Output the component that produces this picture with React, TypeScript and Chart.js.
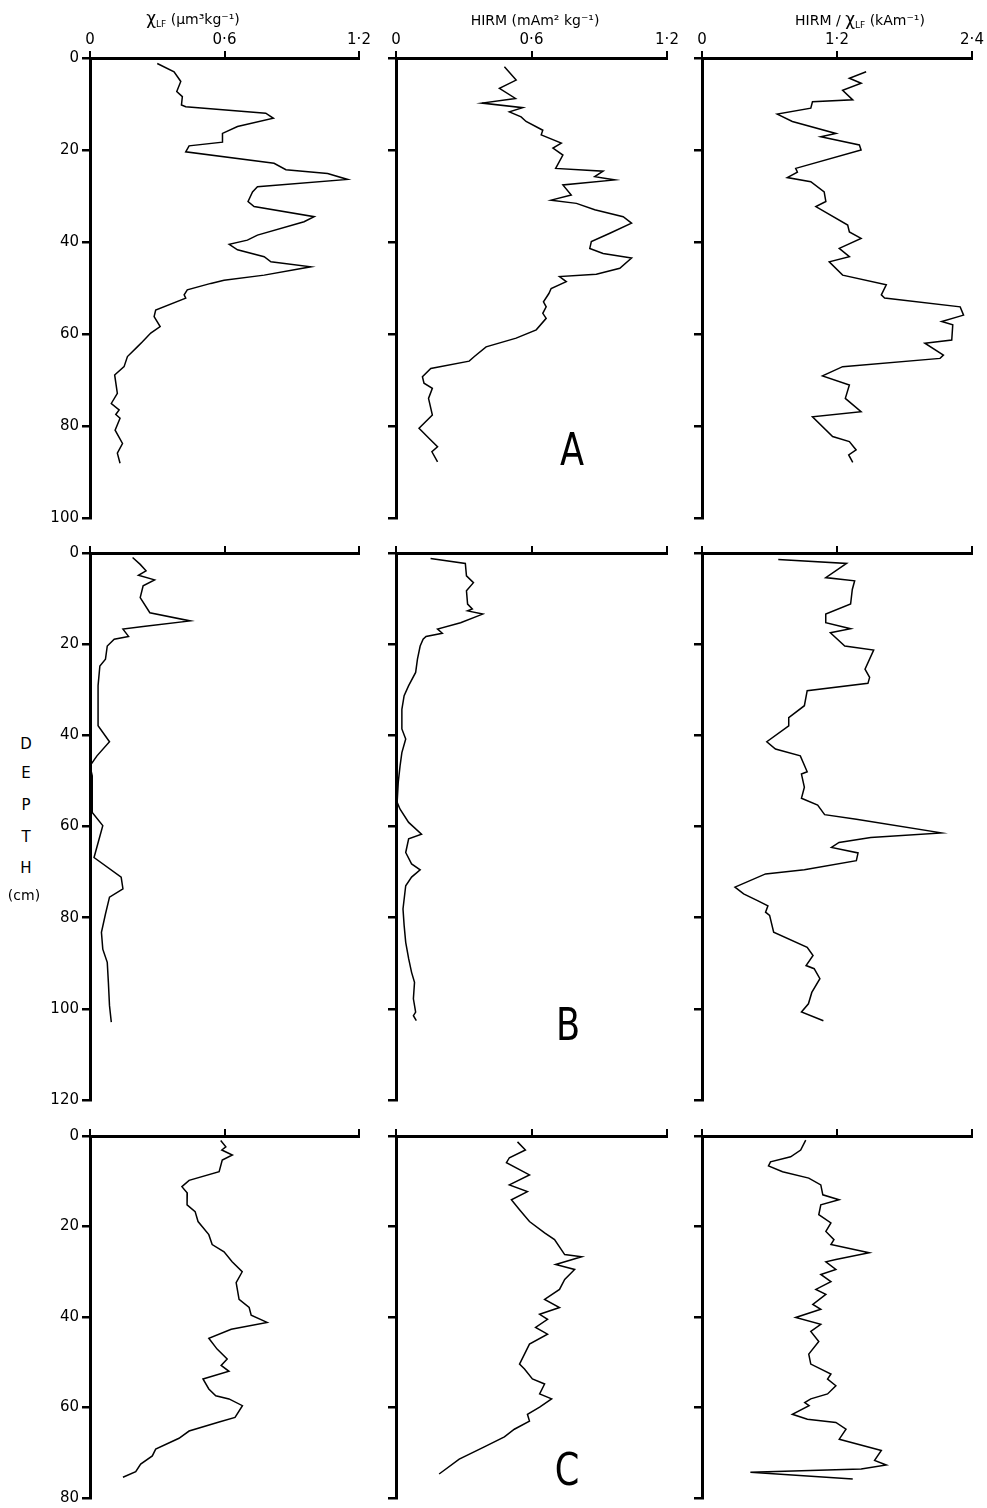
import React, { useEffect, useRef } from "react";
import { Chart, registerables } from "chart.js";

Chart.register(...registerables);

const FONT = "'DejaVu Sans', 'Liberation Sans', sans-serif";

// ---- tick labels ----
const CHI_TICKS = [0, 0.6, 1.2];
const HIRM_TICKS = [0, 0.6, 1.2];
const RATIO_TICKS = [0, 1.2, 2.4];
const DEPTH_TICKS_A = [0, 20, 40, 60, 80, 100];
const DEPTH_TICKS_B = [0, 20, 40, 60, 80, 100, 120];
const DEPTH_TICKS_C = [0, 20, 40, 60, 80];

// ---- core A ----
const A_CHI_DEPTH = [1.2, 3.0, 5.1, 7.3, 8.4, 10.2, 10.6, 12.0, 13.1, 14.9, 16.4, 18.3, 19.1, 20.4, 22.9, 24.3, 25.1, 26.4, 28.0, 29.1, 31.2, 32.3, 34.5, 35.6, 38.5, 39.6, 40.5, 41.7, 43.2, 44.3, 45.4, 47.2, 48.3, 49.0, 50.4, 51.5, 52.2, 54.8, 56.2, 58.4, 59.8, 61.7, 62.8, 64.9, 67.1, 68.9, 72.9, 75.1, 76.5, 77.5, 78.3, 80.9, 83.8, 85.9, 88.1];
const A_CHI = [0.30, 0.375, 0.405, 0.387, 0.412, 0.408, 0.427, 0.784, 0.818, 0.658, 0.591, 0.591, 0.442, 0.427, 0.821, 0.874, 1.06, 1.149, 0.747, 0.725, 0.705, 0.732, 1.0, 0.955, 0.747, 0.702, 0.621, 0.658, 0.777, 0.807, 0.985, 0.777, 0.598, 0.539, 0.434, 0.42, 0.427, 0.293, 0.286, 0.313, 0.271, 0.234, 0.211, 0.167, 0.152, 0.110, 0.122, 0.095, 0.13, 0.115, 0.134, 0.112, 0.145, 0.122, 0.134];

const A_HIRM_DEPTH = [1.9, 4.8, 6.6, 8.8, 9.8, 10.8, 11.7, 12.8, 13.8, 15.7, 16.7, 18.5, 19.6, 21.1, 24.0, 24.6, 25.8, 26.5, 27.6, 29.8, 30.9, 31.6, 33.0, 34.5, 35.9, 38.1, 39.9, 41.4, 42.5, 43.5, 45.7, 47.0, 47.5, 48.6, 50.1, 51.2, 53.0, 54.1, 55.5, 56.6, 59.1, 60.9, 62.8, 64.9, 65.9, 67.5, 69.3, 70.7, 71.8, 74.0, 77.6, 80.5, 82.7, 84.5, 85.6, 87.8];
const A_HIRM = [0.48, 0.532, 0.458, 0.529, 0.381, 0.561, 0.502, 0.554, 0.576, 0.650, 0.643, 0.732, 0.695, 0.739, 0.707, 0.917, 0.88, 0.969, 0.739, 0.776, 0.687, 0.799, 0.88, 1.006, 1.043, 0.947, 0.865, 0.858, 0.917, 1.043, 0.991, 0.887, 0.724, 0.754, 0.687, 0.677, 0.653, 0.665, 0.650, 0.665, 0.621, 0.532, 0.399, 0.347, 0.324, 0.154, 0.117, 0.124, 0.161, 0.144, 0.161, 0.102, 0.147, 0.184, 0.159, 0.184];

const A_RATIO_DEPTH = [3.0, 4.4, 5.5, 7.0, 9.1, 9.5, 10.9, 12.2, 13.8, 16.4, 17.1, 18.9, 20.0, 24.0, 24.8, 26.0, 26.9, 29.1, 31.2, 32.3, 36.3, 37.8, 39.2, 41.4, 43.2, 44.3, 47.2, 49.3, 51.5, 52.2, 54.1, 55.9, 57.3, 58.0, 61.3, 62.0, 64.6, 65.3, 67.1, 69.1, 71.1, 74.0, 76.9, 78.0, 82.3, 83.4, 85.2, 86.3, 87.9];
const A_RATIO = [1.459, 1.31, 1.415, 1.25, 1.34, 0.982, 0.967, 0.669, 0.803, 1.19, 1.056, 1.399, 1.414, 0.833, 0.848, 0.758, 0.967, 1.086, 1.101, 1.012, 1.295, 1.31, 1.414, 1.22, 1.31, 1.131, 1.25, 1.638, 1.594, 1.623, 2.295, 2.325, 2.131, 2.229, 2.22, 1.981, 2.146, 2.116, 1.25, 1.071, 1.31, 1.274, 1.414, 0.982, 1.161, 1.31, 1.37, 1.304, 1.34];

// ---- core B ----
const B_CHI_DEPTH = [1.0, 2.5, 3.9, 4.9, 5.9, 7.2, 9.8, 13.1, 14.9, 16.1, 16.7, 18.3, 18.9, 20.4, 23.3, 24.8, 29.1, 37.9, 41.4, 44.5, 46.7, 48.9, 56.9, 59.8, 66.8, 71.1, 73.7, 75.5, 79.2, 83.2, 86.9, 89.8, 94.2, 99.3, 102.9];
const B_CHI = [0.19, 0.224, 0.25, 0.216, 0.288, 0.237, 0.224, 0.267, 0.447, 0.237, 0.147, 0.172, 0.108, 0.077, 0.069, 0.044, 0.036, 0.036, 0.087, 0.031, 0.0, 0.01, 0.01, 0.057, 0.018, 0.139, 0.147, 0.087, 0.069, 0.051, 0.057, 0.077, 0.082, 0.087, 0.095];

const B_HIRM_DEPTH = [1.2, 2.3, 5.0, 6.5, 8.3, 11.2, 12.3, 12.7, 13.4, 15.3, 16.7, 17.6, 18.3, 18.9, 20.4, 23.3, 26.2, 29.1, 31.3, 34.3, 38.6, 40.8, 43.8, 46.7, 50.3, 54.7, 56.2, 59.1, 61.7, 62.7, 65.7, 68.2, 69.5, 71.1, 73.0, 78.1, 81.7, 85.4, 89.0, 92.0, 94.2, 97.8, 100.7, 101.5, 102.6];
const B_HIRM = [0.153, 0.307, 0.312, 0.343, 0.312, 0.317, 0.338, 0.317, 0.384, 0.286, 0.184, 0.205, 0.133, 0.120, 0.107, 0.095, 0.087, 0.056, 0.036, 0.026, 0.026, 0.043, 0.026, 0.018, 0.01, 0.005, 0.018, 0.056, 0.113, 0.056, 0.043, 0.069, 0.107, 0.069, 0.043, 0.031, 0.036, 0.043, 0.056, 0.069, 0.082, 0.077, 0.087, 0.077, 0.09];

const B_RATIO_DEPTH = [1.4, 2.3, 5.4, 6.1, 8.0, 11.2, 13.4, 15.3, 16.6, 17.5, 20.4, 21.3, 25.5, 27.3, 28.6, 30.2, 33.5, 36.1, 37.9, 41.4, 43.0, 44.5, 48.0, 48.5, 51.4, 53.8, 55.3, 57.4, 58.4, 61.4, 62.4, 63.5, 64.6, 65.8, 67.5, 69.5, 70.4, 73.3, 74.8, 76.3, 77.4, 78.8, 79.5, 83.2, 86.5, 88.3, 90.5, 91.2, 93.4, 96.4, 98.9, 100.7, 102.6];
const B_RATIO = [0.678, 1.285, 1.10, 1.357, 1.336, 1.321, 1.10, 1.10, 1.321, 1.141, 1.269, 1.526, 1.449, 1.49, 1.475, 0.935, 0.91, 0.771, 0.771, 0.576, 0.653, 0.874, 0.935, 0.884, 0.91, 0.884, 1.028, 1.09, 1.372, 2.127, 1.5, 1.218, 1.151, 1.387, 1.372, 0.91, 0.565, 0.293, 0.37, 0.498, 0.586, 0.565, 0.601, 0.637, 0.935, 0.987, 0.925, 0.997, 1.048, 0.976, 0.946, 0.884, 1.079];

// ---- core C ----
const C_CHI_DEPTH = [1.0, 2.4, 3.1, 4.2, 5.3, 7.9, 9.8, 11.2, 12.6, 15.2, 16.7, 18.9, 21.8, 24.0, 25.6, 27.8, 30.0, 32.4, 36.1, 37.9, 39.6, 41.2, 42.7, 44.7, 47.1, 49.3, 50.7, 52.0, 53.7, 55.9, 57.4, 58.1, 59.6, 62.2, 63.2, 65.2, 66.8, 69.2, 70.7, 72.5, 74.2, 75.4];
const C_CHI = [0.583, 0.606, 0.588, 0.635, 0.59, 0.576, 0.442, 0.41, 0.434, 0.433, 0.469, 0.482, 0.53, 0.545, 0.598, 0.634, 0.679, 0.652, 0.665, 0.71, 0.719, 0.79, 0.63, 0.53, 0.567, 0.612, 0.585, 0.62, 0.504, 0.53, 0.561, 0.62, 0.68, 0.647, 0.576, 0.442, 0.397, 0.293, 0.278, 0.226, 0.204, 0.147];

const C_HIRM_DEPTH = [1.3, 3.1, 4.8, 5.9, 8.6, 10.8, 12.3, 14.1, 16.3, 18.9, 21.4, 22.9, 26.2, 26.7, 28.4, 29.5, 31.7, 33.9, 36.1, 37.9, 39.4, 40.5, 42.3, 43.8, 46.0, 48.2, 50.4, 51.5, 53.7, 54.8, 57.0, 58.1, 59.9, 61.5, 63.0, 64.8, 66.5, 68.7, 71.4, 74.7];
const C_HIRM = [0.538, 0.573, 0.502, 0.489, 0.591, 0.502, 0.582, 0.511, 0.547, 0.591, 0.658, 0.702, 0.747, 0.822, 0.707, 0.791, 0.747, 0.724, 0.658, 0.724, 0.636, 0.671, 0.618, 0.671, 0.591, 0.569, 0.547, 0.569, 0.604, 0.658, 0.636, 0.689, 0.636, 0.582, 0.591, 0.524, 0.48, 0.391, 0.28, 0.191];

const C_RATIO_DEPTH = [0.9, 3.1, 4.6, 5.7, 6.6, 7.9, 9.3, 10.8, 13.0, 14.1, 15.2, 17.4, 19.2, 21.1, 22.9, 24.0, 25.8, 27.3, 27.8, 29.5, 30.6, 32.2, 33.9, 35.0, 37.2, 38.3, 40.1, 41.6, 43.2, 45.4, 48.2, 50.4, 52.6, 53.7, 55.2, 57.0, 58.1, 58.9, 59.6, 61.5, 62.6, 63.3, 64.8, 67.0, 69.5, 71.7, 72.7, 73.6, 74.3, 75.8];
const C_RATIO = [0.922, 0.877, 0.788, 0.609, 0.591, 0.716, 0.949, 1.056, 1.074, 1.218, 1.056, 1.038, 1.146, 1.101, 1.173, 1.146, 1.486, 1.19, 1.101, 1.19, 1.056, 1.146, 1.012, 1.101, 0.985, 1.056, 0.833, 1.056, 0.967, 1.038, 0.949, 0.967, 1.146, 1.116, 1.19, 1.116, 0.967, 0.913, 0.952, 0.803, 0.937, 1.19, 1.28, 1.22, 1.594, 1.534, 1.638, 1.415, 0.43, 1.34];

const fmt = (v: number) => (v === 0 ? "0" : v.toFixed(1).replace(".", "\u00B7"));

type PanelProps = {
  depth: number[];
  values: number[];
  xTicks: number[];
  yTicks: number[];
  left: number;
  top: number;
  width: number;
  height: number;
  showX: boolean;
  showY: boolean;
};

function Panel(p: PanelProps) {
  const ref = useRef<HTMLCanvasElement | null>(null);
  const LM = p.showY ? 50 : 14;
  const TM = p.showX ? 30 : 12;
  const RP = 16;
  const BP = 12;

  useEffect(() => {
    if (!ref.current) return;
    const tickFont = { family: FONT, size: 15 };
    const chart = new Chart(ref.current, {
      type: "scatter",
      data: {
        datasets: [
          {
            data: p.depth.map((d, i) => ({ x: p.values[i], y: d })),
            showLine: true,
            borderColor: "#000",
            borderWidth: 1.5,
            pointRadius: 0,
            pointHoverRadius: 0,
            fill: false,
            tension: 0,
          },
        ],
      },
      options: {
        animation: false,
        responsive: false,
        events: [],
        layout: { padding: { left: 0, top: 0, right: RP, bottom: BP } },
        plugins: { legend: { display: false }, tooltip: { enabled: false } },
        scales: {
          x: {
            type: "linear",
            position: "top",
            min: p.xTicks[0],
            max: p.xTicks[p.xTicks.length - 1],
            afterBuildTicks: (s: any) => {
              s.ticks = p.xTicks.map((v) => ({ value: v }));
            },
            afterFit: (s: any) => {
              s.height = TM;
            },
            ticks: {
              display: p.showX,
              font: tickFont,
              color: "#000",
              padding: 2,
              maxRotation: 0,
              autoSkip: false,
              callback: (v: any) => fmt(Number(v)),
            },
            grid: { drawOnChartArea: false, drawTicks: true, tickLength: 7, color: "#000", lineWidth: 2 },
            border: { display: true, color: "#000", width: 3 },
          },
          y: {
            type: "linear",
            reverse: true,
            min: 0,
            max: p.yTicks[p.yTicks.length - 1],
            afterBuildTicks: (s: any) => {
              s.ticks = p.yTicks.map((v) => ({ value: v }));
            },
            afterFit: (s: any) => {
              s.width = LM;
            },
            ticks: {
              display: p.showY,
              font: tickFont,
              color: "#000",
              padding: 3,
              autoSkip: false,
              callback: (v: any) => String(v),
            },
            grid: { drawOnChartArea: false, drawTicks: true, tickLength: 8, color: "#000", lineWidth: 2.5 },
            border: { display: true, color: "#000", width: 3 },
          },
        },
      } as any,
    });
    return () => chart.destroy();
  }, []);

  return (
    <canvas
      ref={ref}
      width={LM + p.width + RP}
      height={TM + p.height + BP}
      style={{ position: "absolute", left: p.left - LM, top: p.top - TM }}
    />
  );
}

function Label(props: { x: number; y: number; size: number; children: any; scaleX?: number }) {
  return (
    <div
      style={{
        position: "absolute",
        left: props.x,
        top: props.y,
        transform: `translate(-50%, -50%) scaleX(${props.scaleX ?? 1})`,
        fontFamily: FONT,
        fontSize: props.size,
        lineHeight: 1,
        whiteSpace: "nowrap",
        color: "#000",
      }}
    >
      {props.children}
    </div>
  );
}

const COLS = [
  { x0: 90, w: 269 },
  { x0: 396, w: 271 },
  { x0: 702, w: 270 },
];
const ROWS = [
  { y0: 58, h: 460, ticks: DEPTH_TICKS_A },
  { y0: 553, h: 547, ticks: DEPTH_TICKS_B },
  { y0: 1136, h: 362, ticks: DEPTH_TICKS_C },
];

const PANELS = [
  [
    [A_CHI_DEPTH, A_CHI, CHI_TICKS],
    [A_HIRM_DEPTH, A_HIRM, HIRM_TICKS],
    [A_RATIO_DEPTH, A_RATIO, RATIO_TICKS],
  ],
  [
    [B_CHI_DEPTH, B_CHI, CHI_TICKS],
    [B_HIRM_DEPTH, B_HIRM, HIRM_TICKS],
    [B_RATIO_DEPTH, B_RATIO, RATIO_TICKS],
  ],
  [
    [C_CHI_DEPTH, C_CHI, CHI_TICKS],
    [C_HIRM_DEPTH, C_HIRM, HIRM_TICKS],
    [C_RATIO_DEPTH, C_RATIO, RATIO_TICKS],
  ],
];

export default function App() {
  const sub = { fontSize: 9, verticalAlign: "-3px" } as const;
  return (
    <div style={{ position: "absolute", left: 0, top: 0, width: 987, height: 1508, background: "#fff", overflow: "hidden" }}>
      {PANELS.map((row, r) =>
        row.map((cell, c) => (
          <Panel
            key={`${r}-${c}`}
            depth={cell[0] as number[]}
            values={cell[1] as number[]}
            xTicks={cell[2] as number[]}
            yTicks={ROWS[r].ticks}
            left={COLS[c].x0}
            top={ROWS[r].y0}
            width={COLS[c].w}
            height={ROWS[r].h}
            showX={r === 0}
            showY={c === 0}
          />
        ))
      )}

      <Label x={193} y={19} size={14}>
        <span style={{ fontSize: 17 }}>χ</span>
        <span style={sub}>LF</span> (μm³kg⁻¹)
      </Label>
      <Label x={535} y={20} size={14}>
        HIRM (mAm² kg⁻¹)
      </Label>
      <Label x={860} y={20} size={14}>
        HIRM / <span style={{ fontSize: 17 }}>χ</span>
        <span style={sub}>LF</span> (kAm⁻¹)
      </Label>

      <Label x={26} y={744} size={15}>D</Label>
      <Label x={26} y={773} size={15}>E</Label>
      <Label x={26} y={805} size={15}>P</Label>
      <Label x={26} y={837} size={15}>T</Label>
      <Label x={26} y={868} size={15}>H</Label>
      <Label x={24} y={895} size={14}>(cm)</Label>

      <Label x={572} y={450} size={44} scaleX={0.8}>A</Label>
      <Label x={568} y={1025} size={44} scaleX={0.8}>B</Label>
      <Label x={567} y={1470} size={44} scaleX={0.8}>C</Label>
    </div>
  );
}
